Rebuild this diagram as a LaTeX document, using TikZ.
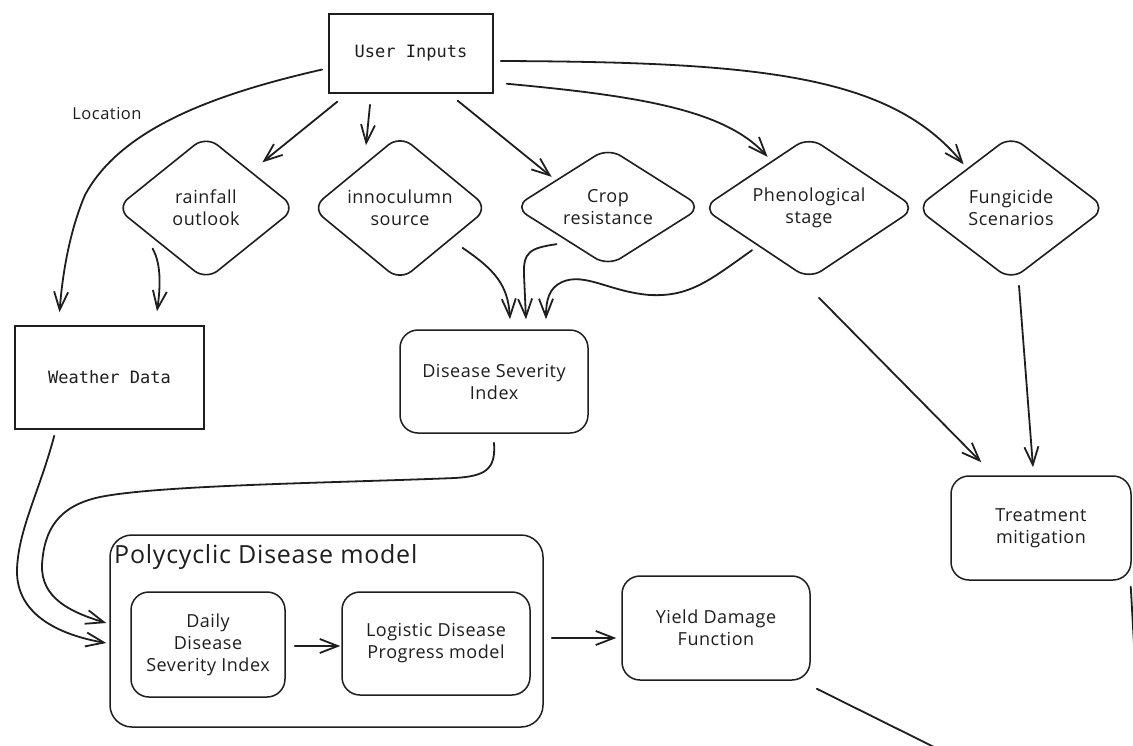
\documentclass[tikz,border=0pt]{standalone}
\usepackage{fontspec}
\usetikzlibrary{arrows.meta,shapes.geometric,calc}
\newfontfamily\handfont[LetterSpace=3]{Open Sans}
\newfontfamily\codefont{DejaVu Sans Mono}
\definecolor{ink}{RGB}{30,30,30}

\tikzset{
  hand/.style={font=\handfont\fontsize{18}{22}\selectfont, text=ink, align=center},
  code/.style={font=\codefont\fontsize{17}{21}\selectfont, text=ink},
  sqbox/.style={draw=ink, line width=1.5pt, rectangle, inner sep=0pt, code},
  rbox/.style={draw=ink, line width=1.5pt, rectangle, rounded corners=18pt, inner sep=0pt, hand},
  dia/.style={draw=ink, line width=1.6pt, diamond, shape aspect=1.6, rounded corners=15pt, inner sep=0pt, hand},
  arr/.style={draw=ink, line width=1.8pt, line cap=round, line join=round,
    -{Straight Barb[length=18pt,width=14pt]}},
  plainline/.style={draw=ink, line width=1.8pt, line cap=round},
}

\begin{document}
\begin{tikzpicture}[x=1pt,y=-1pt]
\fill[white] (0,0) rectangle (1133,745);
\useasboundingbox (0,0) rectangle (1133,745);

% boxes
\node[sqbox, minimum width=164pt, minimum height=79pt] (user) at (411,53.5) {User Inputs};
\node[sqbox, minimum width=189pt, minimum height=103pt] (weather) at (109.5,377.5) {Weather Data};

% decision diamonds
\node[dia, minimum width=180pt, minimum height=145pt] (rain) at (206,208) {rainfall\\outlook};
\node[dia, minimum width=177pt, minimum height=146pt] (inoc) at (400,208) {innoculumn\\source};
\node[dia, minimum width=188pt, minimum height=119pt] (crop) at (608,207) {Crop\\resistance};
\node[dia, minimum width=214pt, minimum height=143pt] (phen) at (809,208) {Phenological\\stage};
\node[dia, minimum width=190pt, minimum height=145pt] (fung) at (1011,208) {Fungicide\\Scenarios};

% rounded process boxes
\node[rbox, minimum width=188pt, minimum height=103pt] (dsi) at (494,381.5) {Disease Severity\\Index};
\node[rbox, minimum width=180pt, minimum height=104pt] (treat) at (1041,528) {Treatment\\mitigation};
\node[rbox, minimum width=188pt, minimum height=104pt] (yield) at (716,628) {Yield Damage\\Function};

% model container
\node[rbox, rounded corners=22pt, minimum width=433pt, minimum height=192pt] (poly) at (326.5,631) {};
\node[hand, font=\handfont\fontsize{25}{30}\selectfont, anchor=base west, inner sep=0pt] (polytitle) at (114,563) {Polycyclic Disease model};
\node[rbox, minimum width=154pt, minimum height=105pt] (daily) at (208,644.5) {Daily\\Disease\\Severity Index};
\node[rbox, minimum width=188pt, minimum height=103pt] (logi) at (436,643.5) {Logistic Disease\\Progress model};

% connector label
\node[hand, font=\handfont\fontsize{16.5}{19}\selectfont] (loc) at (107,114) {Location};

% connectors from the user inputs
\draw[arr] ($(user.west)+(-6,16)$) .. controls (210,95) and (120,130) .. (85,195)
  .. controls (68,235) and (62,280) .. ($(weather.north)+(-50,-13)$);
\draw[arr] ($(user.south west)+(9,8)$) -- ($(rain.north)!0.5!(rain.east)+(11,-9)$);
\draw[arr] ($(user.south)+(-41,11)$) -- ($(inoc.north)+(-34,11)$);
\draw[arr] ($(user.south east)+(-36,7)$) -- ($(crop.north)!0.5!(crop.west)+(-9,0)$);
\draw[arr] ($(user.south east)+(13,-10)$) .. controls (640,96) and (725,110) ..
  ($(phen.north)!0.5!(phen.west)+(12.5,-15)$);
\draw[arr] ($(user.east)+(7,7.5)$) .. controls (760,62) and (890,75) ..
  ($(fung.north)!0.5!(fung.west)+(0.5,-7)$);

% into weather data
\draw[arr] ($(rain.south)!0.5!(rain.west)+(-8,4)$) .. controls (162,265) and (160,290) ..
  ($(weather.north)+(47.5,-14)$);

% into disease severity index
\draw[arr] ($(inoc.south)!0.5!(inoc.east)+(18,3)$) .. controls (495,270) and (508,285) ..
  ($(dsi.north)+(16,-10)$);
\draw[arr] ($(crop.south)!0.5!(crop.west)+(-4,7)$) .. controls (530,248) and (523,252) .. (524,275)
  -- ($(dsi.north)+(32,-10)$);
\draw[arr] ($(phen.south)!0.5!(phen.west)+(-3,6)$) .. controls (710,280) and (690,297) .. (650,295)
  .. controls (610,292) and (585,272) .. (562,282)
  .. controls (549,288) and (546,300) .. ($(dsi.north)+(52,-10)$);

% into the polycyclic model
\draw[arr] ($(dsi.south)+(0,9)$) .. controls (496,470) and (485,476) .. (455,478)
  .. controls (330,483) and (160,485) .. (100,497)
  .. controls (58,506) and (44,530) .. (42,565)
  .. controls (41,598) and (70,612) .. ($(poly.west)+(-3,-8)$);
\draw[arr] ($(weather.south west)+(40,6)$) .. controls (40,490) and (18,530) .. (17,570)
  .. controls (16,615) and (60,635) .. ($(poly.west)+(-3,12)$);

% inside and out of the model
\draw[arr] ($(daily.east)+(9,1.5)$) -- ($(logi.west)+(-1,2.5)$);
\draw[arr] ($(poly.east)+(8,7)$) -- ($(yield.west)+(-5,10)$);

% into treatment mitigation
\draw[arr] ($(phen.south)+(10,17.5)$) -- ($(treat.north west)+(31,-13)$);
\draw[arr] ($(fung.south)+(8,4.5)$) -- ($(treat.north)+(-8,-8)$);

% lines running off the sheet
\coordinate (edgeR) at (1134,645);
\coordinate (edgeB) at (936,748);
\draw[plainline] ($(treat.south east)+(-1,6)$) -- (edgeR);
\draw[plainline] ($(yield.south east)+(6,8)$) -- (edgeB);
\end{tikzpicture}
\end{document}
